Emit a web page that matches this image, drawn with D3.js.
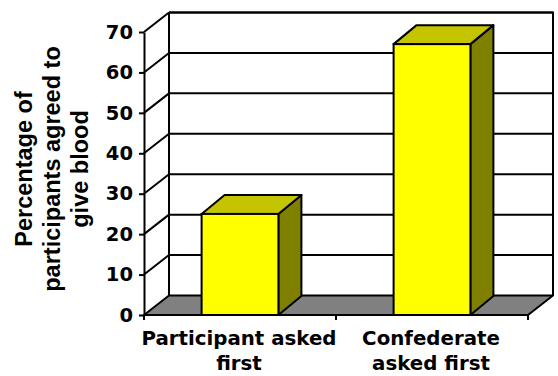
<!DOCTYPE html>
<html><head><meta charset="utf-8">
<script src="https://cdn.jsdelivr.net/npm/d3@7"></script>
<style>html,body{margin:0;padding:0;background:#fff;}svg{display:block;}</style>
</head><body>
<svg id="chart" width="558" height="376"></svg>
<script>
const categories = ["Participant asked first", "Confederate asked first"];
const categoryLines = [["Participant asked", "first"], ["Confederate", "asked first"]];
const values = [25, 67];
const yTicks = [0, 10, 20, 30, 40, 50, 60, 70];
const yTitleLines = ["Percentage of", "participants agreed to", "give blood"];

const svg = d3.select("#chart");
const x0 = 144, x1 = 528, yBase = 315, yTop = 32;
const dx = 25, dy = 19.5;
const bdx = 23, bdy = 19;

const x = d3.scaleBand().domain(categories).range([x0, x1]).paddingInner(0.6).paddingOuter(0.3);
const y = d3.scaleLinear().domain([0, 70]).range([yBase, yTop]);

const g = svg.append("g");
const sw = 2;

// back wall outline
g.append("path")
  .attr("d", `M${x0+dx},${y(70)-dy} L${x0+dx},${y(0)-dy} M${x0+dx},${y(70)-dy} L${x1+dx},${y(70)-dy} L${x1+dx},${y(0)-dy}`)
  .attr("fill", "none").attr("stroke", "#000").attr("stroke-width", sw);

// gridlines on back wall and side wall diagonals
yTicks.filter(t => t > 0).forEach(t => {
  g.append("line").attr("x1", x0+dx).attr("x2", x1+dx).attr("y1", y(t)-dy).attr("y2", y(t)-dy)
    .attr("stroke", "#000").attr("stroke-width", sw);
  g.append("line").attr("x1", x0).attr("x2", x0+dx).attr("y1", y(t)).attr("y2", y(t)-dy)
    .attr("stroke", "#000").attr("stroke-width", sw);
});

// floor
g.append("path")
  .attr("d", `M${x0},${y(0)} L${x1},${y(0)} L${x1+dx},${y(0)-dy} L${x0+dx},${y(0)-dy} Z`)
  .attr("fill", "#808080").attr("stroke", "#000").attr("stroke-width", sw).attr("stroke-linejoin", "round");

// bars
const bars = g.selectAll("g.bar").data(categories.map((c, i) => ({c, v: values[i]}))).join("g").attr("class", "bar");
bars.each(function(d) {
  const b = d3.select(this);
  const xl = x(d.c), xr = x(d.c) + x.bandwidth(), yt = y(d.v), yb = y(0);
  b.append("path").attr("d", `M${xr},${yb} L${xr+bdx},${yb-bdy} L${xr+bdx},${yt-bdy} L${xr},${yt} Z`)
    .attr("fill", "#808000").attr("stroke", "#000").attr("stroke-width", sw).attr("stroke-linejoin", "round");
  b.append("path").attr("d", `M${xl},${yt} L${xr},${yt} L${xr+bdx},${yt-bdy} L${xl+bdx},${yt-bdy} Z`)
    .attr("fill", "#C4C400").attr("stroke", "#000").attr("stroke-width", sw).attr("stroke-linejoin", "round");
  b.append("rect").attr("x", xl).attr("y", yt).attr("width", x.bandwidth()).attr("height", yb - yt)
    .attr("fill", "#FFFF00").attr("stroke", "#000").attr("stroke-width", sw);
});

// y axis
const yAxis = d3.axisLeft(y).tickValues(yTicks).tickSize(5).tickPadding(6).tickSizeOuter(0);
const ya = svg.append("g").attr("transform", `translate(${x0},0)`).call(yAxis);
ya.select(".domain").attr("stroke", "#000").attr("stroke-width", sw);
ya.selectAll(".tick line").attr("stroke", "#000").attr("stroke-width", sw);
ya.selectAll(".tick text").attr("font-family", "'DejaVu Sans', Verdana, sans-serif")
  .attr("font-weight", "bold").attr("font-size", "19.5px").attr("fill", "#000");

// x axis line and ticks
svg.append("line").attr("x1", x0).attr("x2", x1).attr("y1", yBase).attr("y2", yBase)
  .attr("stroke", "#000").attr("stroke-width", sw);
const xTickPos = [x0, (x0 + x1) / 2, x1];
svg.selectAll("line.xt").data(xTickPos).join("line").attr("class", "xt")
  .attr("x1", d => d).attr("x2", d => d).attr("y1", yBase).attr("y2", yBase + 5)
  .attr("stroke", "#000").attr("stroke-width", sw);

// category labels
categories.forEach((c, i) => {
  const t = svg.append("text").attr("text-anchor", "middle")
    .attr("font-family", "'DejaVu Sans', Verdana, sans-serif").attr("font-weight", "bold").attr("font-size", "19.8px")
    .attr("fill", "#000");
  categoryLines[i].forEach((ln, j) => {
    t.append("tspan").attr("x", x(c) + x.bandwidth() / 2 - 1).attr("y", 345 + j * 25).text(ln);
  });
});

// y title
const yt = svg.append("text").attr("transform", "translate(0,169) rotate(-90)").attr("text-anchor", "middle")
  .attr("font-family", "'Liberation Sans', Arial, sans-serif").attr("font-weight", "bold").attr("font-size", "23.5px")
  .attr("fill", "#000");
yTitleLines.forEach((ln, j) => {
  yt.append("tspan").attr("x", 0).attr("y", 32 + j * 28).text(ln);
});
</script>
</body></html>
